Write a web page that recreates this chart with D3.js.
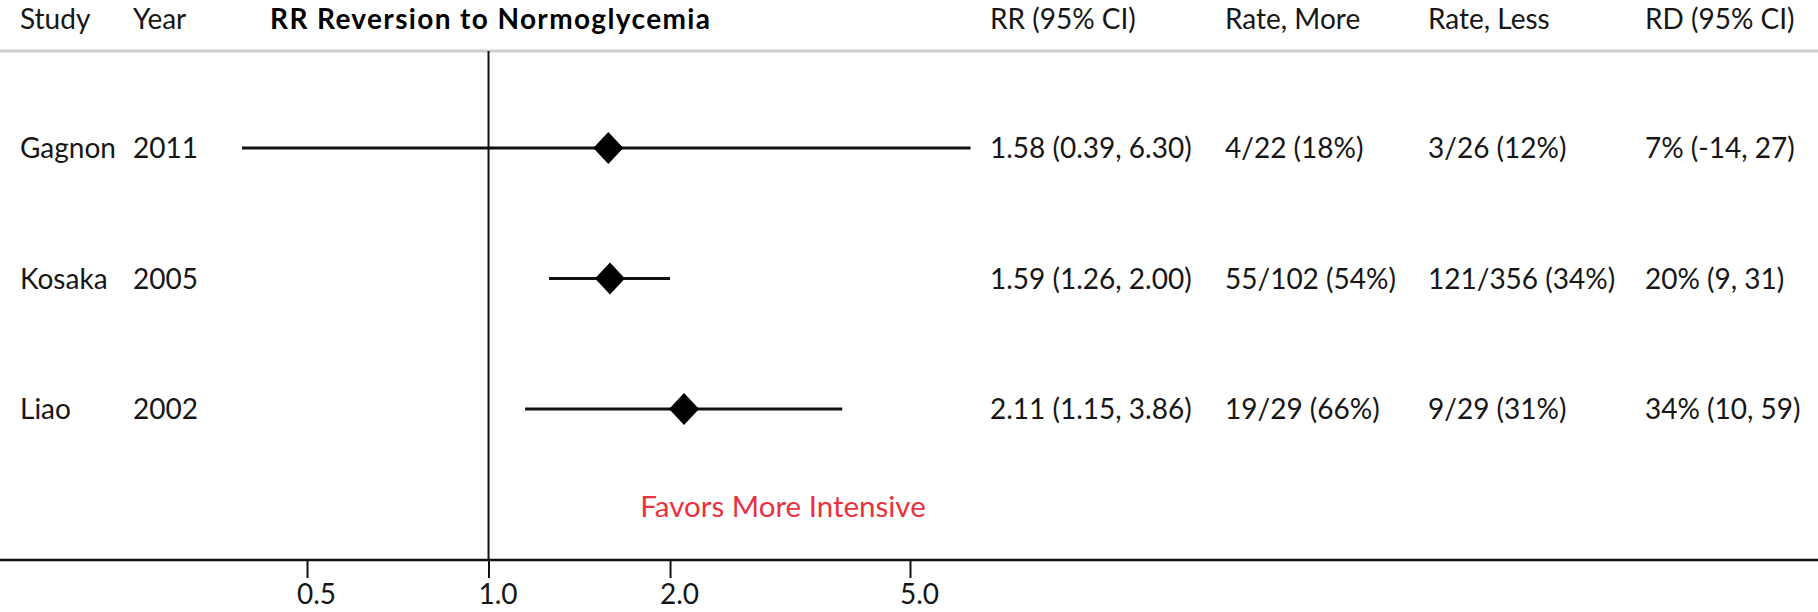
<!DOCTYPE html>
<html>
<head>
<meta charset="utf-8">
<script src="https://cdn.jsdelivr.net/npm/d3@7"></script>
<style>
	body { margin: 0; background: #fff; }
	text { font-family: Lato, "Open Sans", sans-serif; fill: #161616; }
</style>
</head>
<body>
<div class="canvas"></div>
<script>
var studies = ["Gagnon", "Kosaka", "Liao"];
var years = ["2011", "2005", "2002"];
var rr = [1.58, 1.59, 2.11];
var rr_low = [0.39, 1.26, 1.15];
var rr_high = [6.30, 2.00, 3.86];
var rate_more = ["4/22 (18%)", "55/102 (54%)", "19/29 (66%)"];
var rate_less = ["3/26 (12%)", "121/356 (34%)", "9/29 (31%)"];
var rd = ["7% (-14, 27)", "20% (9, 31)", "34% (10, 59)"];
var tick_vals = [0.5, 1.0, 2.0, 5.0];
var headers = ["Study", "Year", "RR (95% CI)", "Rate, More", "Rate, Less", "RD (95% CI)"];
var title = "RR Reversion to Normoglycemia";
var favors = "Favors More Intensive";

var W = 1818, H = 612;
var FS = 28;

var svg = d3.select("div.canvas").append("svg")
	.attr("width", W).attr("height", H);

var x = d3.scaleLog().domain([0.5, 5]).range([307, 910]);
var y = d3.scaleLinear().domain([0, 1]).range([148, 278.5]);
var axis_y = 560;

// column left edges
var col_x = [20, 133, 990, 1225, 1428, 1645];
var f2 = d3.format(".2f");

function rr_txt(i) {
	return f2(rr[i]) + " (" + f2(rr_low[i]) + ", " + f2(rr_high[i]) + ")";
}

// header
svg.selectAll("text.head")
	.data(headers)
	.enter().append("text")
	.attr("class", "head")
	.attr("x", function(d, i) { return col_x[i]; })
	.attr("y", 29)
	.style("font-size", FS + "px")
	.text(function(d) { return d; });

svg.append("text")
	.attr("x", 270).attr("y", 29)
	.attr("textLength", 440)
	.attr("lengthAdjust", "spacing")
	.style("font-size", "28px")
	.style("font-weight", "bold")
	.style("fill", "#000")
	.text(title);

svg.append("line")
	.attr("x1", 0).attr("x2", W)
	.attr("y1", 51).attr("y2", 51)
	.attr("stroke", "#cfcfcf")
	.attr("stroke-width", 3);

// reference line at RR = 1
svg.append("line")
	.attr("x1", x(1)).attr("x2", x(1))
	.attr("y1", 51).attr("y2", axis_y)
	.attr("stroke", "#111")
	.attr("stroke-width", 2);

// rows
var rows = svg.selectAll("g.row")
	.data(studies)
	.enter().append("g")
	.attr("class", "row")
	.attr("transform", function(d, i) { return "translate(0," + y(i) + ")"; });

rows.append("line")
	.attr("x1", function(d, i) { return x(rr_low[i]); })
	.attr("x2", function(d, i) { return x(rr_high[i]); })
	.attr("stroke", "#111")
	.attr("stroke-width", 3);

rows.append("path")
	.attr("d", function(d, i) {
		var cx = x(rr[i]);
		return "M" + (cx - 15) + ",0L" + cx + ",-16L" + (cx + 15) + ",0L" + cx + ",16Z";
	})
	.attr("fill", "#000");

var cols = [
	function(i) { return studies[i]; },
	function(i) { return years[i]; },
	rr_txt,
	function(i) { return rate_more[i]; },
	function(i) { return rate_less[i]; },
	function(i) { return rd[i]; }
];

cols.forEach(function(fn, c) {
	rows.append("text")
		.attr("x", col_x[c])
		.attr("y", 10)
		.style("font-size", FS + "px")
		.text(function(d, i) { return fn(i); });
});

svg.append("text")
	.attr("x", 783).attr("y", 517)
	.attr("text-anchor", "middle")
	.style("font-size", "29.5px")
	.style("fill", "#e8323f")
	.text(favors);

// axis
svg.append("line")
	.attr("x1", 0).attr("x2", W)
	.attr("y1", axis_y).attr("y2", axis_y)
	.attr("stroke", "#111")
	.attr("stroke-width", 2.5);

var ax = svg.append("g")
	.attr("transform", "translate(0," + axis_y + ")")
	.call(d3.axisBottom(x).tickValues(tick_vals).tickFormat(d3.format(".1f")).tickSize(18).tickPadding(6));

ax.select(".domain").remove();
ax.selectAll(".tick line").attr("stroke", "#111").attr("stroke-width", 2);
ax.selectAll(".tick text")
	.attr("dx", 9)
	.attr("fill", "#161616")
	.style("font-size", FS + "px")
	.style("font-family", "Lato, sans-serif");
</script>
</body>
</html>
